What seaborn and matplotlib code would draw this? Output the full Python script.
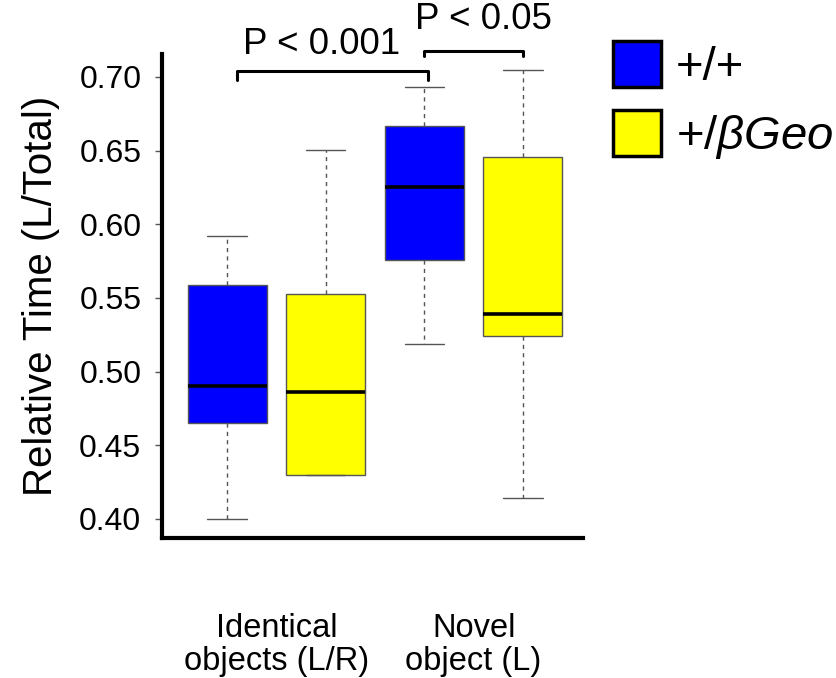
import numpy as np
import pandas as pd
import matplotlib
matplotlib.use("Agg")
import matplotlib.pyplot as plt
from matplotlib.patches import Patch
import seaborn as sns

# five-number summaries: min, Q1, median, Q3, max
categories = ["Identical\nobjects (L/R)", "Novel\nobject (L)"]
genotypes = ["+/+", "+/βGeo"]
wt_identical = [0.400, 0.465, 0.490, 0.559, 0.592]
het_identical = [0.430, 0.430, 0.486, 0.5525, 0.6505]
wt_novel = [0.5186, 0.576, 0.625, 0.6666, 0.693]
het_novel = [0.414, 0.524, 0.539, 0.6455, 0.7045]
box_colors = ["#0000FF", "#FFFF00"]
yticks = [0.40, 0.45, 0.50, 0.55, 0.60, 0.65, 0.70]

rows = []
for cat, g, vals in [(categories[0], genotypes[0], wt_identical),
                     (categories[0], genotypes[1], het_identical),
                     (categories[1], genotypes[0], wt_novel),
                     (categories[1], genotypes[1], het_novel)]:
    for v in vals:
        rows.append({"cat": cat, "geno": g, "value": v})
df = pd.DataFrame(rows)

sns.set_theme(style="ticks")
plt.rcParams["font.family"] = ["Liberation Sans", "DejaVu Sans"]
plt.rcParams["mathtext.fontset"] = "custom"
plt.rcParams["mathtext.rm"] = "Liberation Sans"
plt.rcParams["mathtext.it"] = "Liberation Sans:italic"
plt.rcParams["text.color"] = "black"
plt.rcParams["axes.labelcolor"] = "black"

fig = plt.figure(figsize=(8.36, 6.78), dpi=100)
ax = fig.add_axes([0.194, 0.2065, 0.503, 0.7135])

sns.boxplot(data=df, x="cat", y="value", hue="geno", order=categories,
            hue_order=genotypes, palette=box_colors, saturation=1,
            width=1.0, gap=0.2, whis=np.inf, showfliers=False,
            linecolor="#555555", linewidth=1.0, legend=False, ax=ax,
            medianprops=dict(color="black", linewidth=2.6),
            whiskerprops=dict(color="#555555", linewidth=1.0, linestyle=(0, (3, 3))),
            capprops=dict(color="#555555", linewidth=1.0))

ax.set_xlim(-0.579, 1.553)
ax.set_ylim(0.387, 0.7154)
ax.set_yticks(yticks)
ax.set_yticklabels([f"{t:.2f}" for t in yticks])
ax.set_xlabel("")
ax.set_ylabel("Relative Time (L/Total)", fontsize=29, labelpad=14)
ax.tick_params(axis="y", labelsize=23, length=5, width=1, color="#555555",
               labelcolor="black", pad=10)
ax.tick_params(axis="x", labelsize=23.5, length=0, pad=54, labelcolor="black")
for lbl in ax.get_xticklabels():
    lbl.set_linespacing(1.1)
sns.despine(ax=ax)
for s in ["left", "bottom"]:
    ax.spines[s].set_linewidth(3)
    ax.spines[s].set_color("black")

# significance brackets
def bracket(x0, x1, y, h, label, tx, ty):
    ax.plot([x0, x0, x1, x1], [y - h, y, y, y - h], color="black", lw=2.2,
            clip_on=False, solid_joinstyle="round")
    ax.text(tx, ty, label, ha="center", va="bottom", fontsize=26.5,
            clip_on=False)

bracket(-0.2, 0.77, 0.704, 0.006, "P < 0.001", 0.23, 0.7098)
bracket(0.75, 1.25, 0.7176, 0.0036, "P < 0.05", 1.05, 0.7268)

handles = [Patch(facecolor=c, edgecolor="black", linewidth=2.5) for c in box_colors]
labels = ["+/+", "+/$\\mathit{βGeo}$"]
fig.legend(handles, labels, loc="upper left", bbox_to_anchor=(0.733, 0.94),
           frameon=False, fontsize=34, handlelength=1.03, handleheight=1.13,
           handletextpad=0.3, labelspacing=0.42, borderpad=0, borderaxespad=0)

fig.savefig("out.png", dpi=100)
